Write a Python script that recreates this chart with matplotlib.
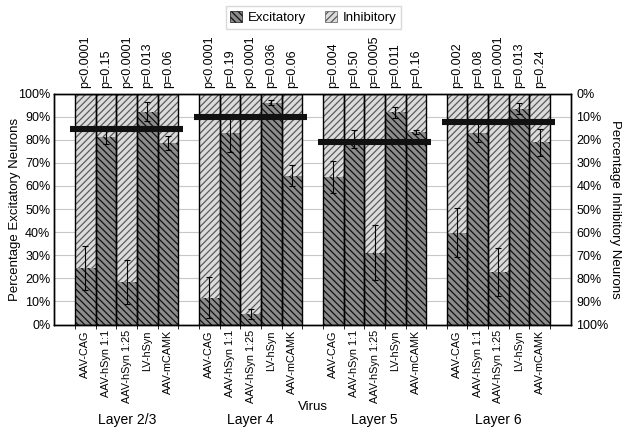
import matplotlib
matplotlib.use("Agg")
import matplotlib.pyplot as plt
import numpy as np
from matplotlib.patches import Patch
from matplotlib.ticker import FuncFormatter

plt.rcParams['font.family'] = ['Liberation Sans', 'DejaVu Sans']
plt.rcParams['hatch.linewidth'] = 0.9

viruses = ["AAV-CAG", "AAV-hSyn 1:1", "AAV-hSyn 1:25", "LV-hSyn", "AAV-mCAMK"]
layers = ["Layer 2/3", "Layer 4", "Layer 5", "Layer 6"]

# % excitatory per virus, one list per layer
excit = [
    [24.5, 81.0, 18.5, 92.2, 78.5],
    [11.6, 82.7, 4.6, 96.1, 64.5],
    [64.0, 80.2, 31.1, 91.8, 83.4],
    [39.7, 83.1, 22.7, 93.4, 78.8],
]
errs = [
    [9.5, 3.0, 9.5, 4.0, 3.0],
    [8.8, 8.0, 2.3, 1.0, 4.6],
    [7.0, 3.8, 11.8, 2.4, 0.8],
    [10.6, 4.0, 10.5, 2.3, 5.8],
]
# thick black reference line per layer
mean_line = [84.5, 89.9, 78.8, 87.7]
pvals = [
    ["p<0.0001", "p=0.15", "p<0.0001", "p=0.013", "p=0.06"],
    ["p<0.0001", "p=0.19", "p<0.0001", "p=0.036", "p=0.06"],
    ["p=0.004", "p=0.50", "p=0.0005", "p=0.011", "p=0.16"],
    ["p=0.002", "p=0.08", "p=0.0001", "p=0.013", "p=0.24"],
]

exc_face, exc_hatch = "#8c8c8c", "#111111"
inh_face, inh_hatch = "#dcdcdc", "#5a5a5a"
H_EXC = "\\\\\\\\\\"
H_INH = "/////"

fig = plt.figure(figsize=(6.29, 4.37), dpi=100)
ax = fig.add_axes([0.0866, 0.2574, 0.8207, 0.5286])

n = len(viruses)
centers = []
for g in range(len(layers)):
    x = np.arange(n) + g * (n + 1)
    centers.append(x)
    e = np.array(excit[g])
    inh = 100 - e
    ax.bar(x, e, width=1.0, color=exc_face, edgecolor=exc_hatch, linewidth=0, hatch=H_EXC, zorder=2)
    ax.bar(x, inh, bottom=e, width=1.0, color=inh_face, edgecolor=inh_hatch, linewidth=0, hatch=H_INH, zorder=2)
    ax.bar(x, [100] * n, width=1.0, fill=False, edgecolor="black", linewidth=1.0, zorder=3)
    ax.errorbar(x, e, yerr=errs[g], fmt="none", ecolor="black", elinewidth=0.8, capsize=2, capthick=0.8, zorder=4)
    ax.hlines(mean_line[g], x[0] - 0.74, x[-1] + 0.74, color="#111111", linewidth=4.4, zorder=5)
    for xi, p in zip(x, pvals[g]):
        ax.text(xi, 102.5, p, rotation=90, ha="center", va="bottom", fontsize=9)
    ax.text(x[2], -38.5, layers[g], ha="center", va="top", fontsize=10)

centers = np.concatenate(centers)
edges = []
for g in range(len(layers)):
    edges.extend(list(np.arange(n + 1) - 0.5 + g * (n + 1)))

ax.set_xlim(-1.5, 23.5)
ax.set_ylim(0, 100)
ax.set_xticks(centers)
ax.set_xticklabels(viruses * len(layers), rotation=90, fontsize=7.8)
ax.set_xticks(edges, minor=True)
ax.tick_params(axis="x", which="major", length=0, pad=4)
ax.tick_params(axis="x", which="minor", length=3, direction="out")
ax.set_yticks(np.arange(0, 101, 10))
ax.yaxis.set_major_formatter(FuncFormatter(lambda v, _: f"{int(v)}%"))
ax.tick_params(axis="y", length=0, labelsize=9, pad=3)
ax.grid(axis="y", color="#c8c8c8", linewidth=0.8, zorder=0)
ax.set_axisbelow(True)
ax.set_ylabel("Percentage Excitatory Neurons", fontsize=9.5, labelpad=-2)
ax.text(11, -33, "Virus", ha="center", va="top", fontsize=9.5)

ax2 = ax.twinx()
ax2.set_ylim(100, 0)
ax2.set_yticks(np.arange(0, 101, 10))
ax2.yaxis.set_major_formatter(FuncFormatter(lambda v, _: f"{int(v)}%"))
ax2.tick_params(axis="y", length=0, labelsize=9, pad=4)
ax2.set_ylabel("Percentage Inhibitory Neurons", rotation=270, fontsize=9.5, labelpad=9)

for a in (ax, ax2):
    for s in a.spines.values():
        s.set_linewidth(1.0)

handles = [
    Patch(facecolor=exc_face, edgecolor=exc_hatch, hatch=H_EXC, linewidth=0.5, label="Excitatory"),
    Patch(facecolor=inh_face, edgecolor=inh_hatch, hatch=H_INH, linewidth=0.5, label="Inhibitory"),
]
fig.legend(handles=handles, loc="center", bbox_to_anchor=(0.498, 0.96), ncol=2, fontsize=9.5,
           frameon=True, fancybox=False, edgecolor="#d0d0d0", handlelength=0.9, handleheight=0.9,
           handletextpad=0.4, columnspacing=1.5, borderpad=0.35)

fig.savefig("out.png", dpi=100)
